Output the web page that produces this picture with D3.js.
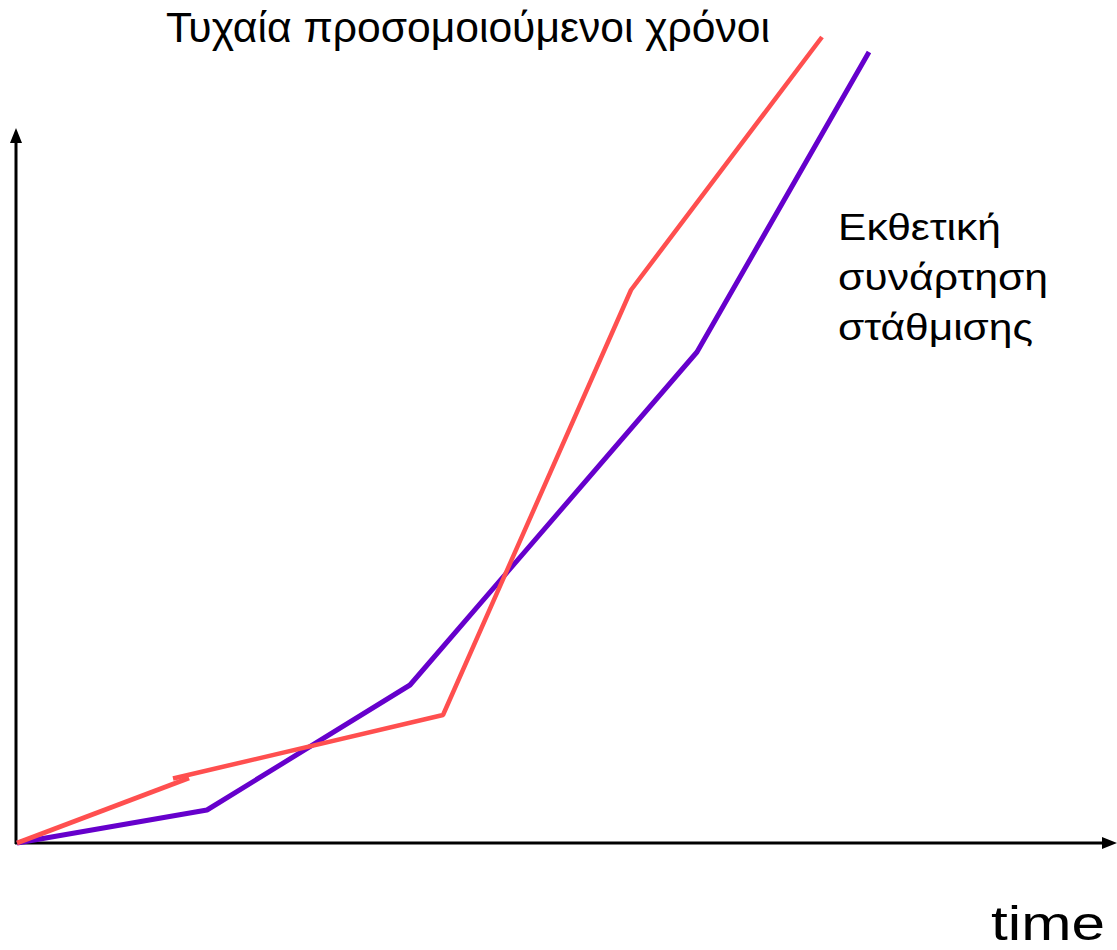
<!DOCTYPE html>
<html><head><meta charset="utf-8">
<script src="https://cdn.jsdelivr.net/npm/d3@7"></script>
<style>body{margin:0;background:#fff}svg{display:block}text{font-family:"Liberation Sans",Arial,sans-serif;fill:#000}</style>
</head><body><div id="chart"></div>
<script>
// data (arbitrary units, time vs value)
const purpleX = [0, 1.90, 3.93, 6.80, 8.52];
const purpleY = [0, 0.33, 1.58, 4.91, 7.91];
const redAX = [0, 1.72];
const redAY = [0, 0.65];
const redBX = [1.56, 4.26, 6.14, 8.05];
const redBY = [0.645, 1.28, 5.53, 8.06];
const titleLabel = "Τυχαία προσομοιούμενοι χρόνοι";
const seriesLabel = ["Εκθετική", "συνάρτηση", "στάθμισης"];
const xLabel = "time";

const W = 1117, H = 950;
const x = d3.scaleLinear().domain([0, 11]).range([17, 1117]);
const y = d3.scaleLinear().domain([0, 8.43]).range([843, 0]);
const svg = d3.select("#chart").append("svg").attr("width", W).attr("height", H);

const line = d3.line().x(d => x(d[0])).y(d => y(d[1]));
const zip = (a, b) => a.map((v, i) => [v, b[i]]);

// axes
svg.append("line").attr("x1", x(0) - 1).attr("x2", x(0) - 1).attr("y1", y(0) + 1).attr("y2", 140)
  .attr("stroke", "#000").attr("stroke-width", 3);
svg.append("path").attr("d", `M${x(0)-1},128 L${x(0)-7},143 L${x(0)+5},143 Z`).attr("fill", "#000");
svg.append("line").attr("x1", x(0) - 2).attr("x2", 1105).attr("y1", y(0)).attr("y2", y(0))
  .attr("stroke", "#000").attr("stroke-width", 3);
svg.append("path").attr("d", `M1117,${y(0)} L1102,${y(0)-6} L1102,${y(0)+6} Z`).attr("fill", "#000");

// series
svg.append("path").attr("d", line(zip(purpleX, purpleY))).attr("fill", "none")
  .attr("stroke", "#6600CC").attr("stroke-width", 5).attr("stroke-linejoin", "bevel");
svg.append("path").attr("d", line(zip(redAX, redAY))).attr("fill", "none")
  .attr("stroke", "#FF4F4F").attr("stroke-width", 5);
svg.append("path").attr("d", line(zip(redBX, redBY))).attr("fill", "none")
  .attr("stroke", "#FF4F4F").attr("stroke-width", 4.5).attr("stroke-linejoin", "bevel");

// texts
svg.append("text").attr("x", 166).attr("y", 42).attr("font-size", 42)
  .attr("textLength", 604).attr("lengthAdjust", "spacingAndGlyphs").text(titleLabel);
const lw = [163, 210, 195];
svg.selectAll("text.lab").data(seriesLabel).join("text").attr("class", "lab")
  .attr("x", 838).attr("y", (d, i) => 240 + i * 50).attr("font-size", 36)
  .attr("textLength", (d, i) => lw[i]).attr("lengthAdjust", "spacingAndGlyphs").text(d => d);
svg.append("text").attr("x", 991).attr("y", 940).attr("font-size", 48)
  .attr("textLength", 114).attr("lengthAdjust", "spacingAndGlyphs").text(xLabel);
</script></body></html>
